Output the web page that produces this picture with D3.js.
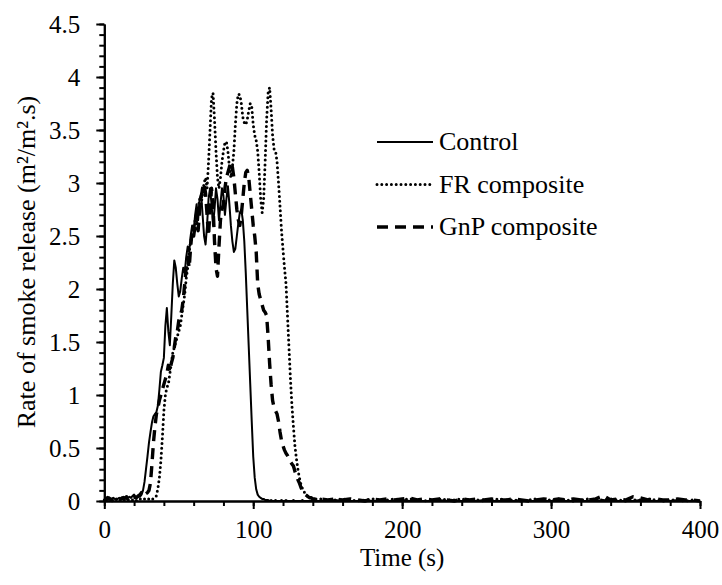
<!DOCTYPE html>
<html>
<head>
<meta charset="utf-8">
<script src="https://cdn.jsdelivr.net/npm/d3@7"></script>
<style>
  body { margin: 0; background: #fff; }
  svg { display: block; }
  .axis path, .axis line { stroke: #000; stroke-width: 2; }
</style>
</head>
<body>
<script>
// sampling grid of the instrument (1 s) and sparse tail (5 s)
const timeMain = d3.range(0, 141)
const timeTail = d3.range(145, 401, 5)

const seriesNames = ['Control', 'FR composite', 'GnP composite']

const controlMain = [
  0.03, 0.02, 0.04, 0.02, 0.01, 0.02, 0.03, 0.02, 0.01, 0.02,
  0.03, 0.02, 0.03, 0.04, 0.03, 0.02, 0.03, 0.04, 0.03, 0.05,
  0.06, 0.04, 0.03, 0.04, 0.04, 0.06, 0.1, 0.18, 0.3, 0.42,
  0.55, 0.65, 0.74, 0.8, 0.82, 0.84, 0.9, 1.05, 1.22, 1.28,
  1.35, 1.65, 1.82, 1.6, 1.47, 1.75, 2.05, 2.27, 2.2, 2.05,
  1.93, 1.98, 2.1, 2.2, 2.15, 2.3, 2.4, 2.35, 2.5, 2.6,
  2.55, 2.7, 2.8, 2.65, 2.85, 2.9, 2.7, 2.5, 2.42, 2.6,
  2.85, 2.95, 2.8, 2.6, 2.75, 2.95, 2.85, 2.65, 2.8, 2.95,
  2.88, 2.7, 2.85, 2.97, 2.8, 2.6, 2.45, 2.35, 2.38, 2.5,
  2.62, 2.72, 2.75, 2.65, 2.45, 2.15, 1.8, 1.45, 1.1, 0.75,
  0.42, 0.22, 0.11, 0.06, 0.04, 0.03, 0.02, 0.02, 0.01, 0.01,
  0.01, 0.0, 0.01, 0.0, 0.0, 0.01, 0.0, 0.0, 0.0, 0.01,
  0.0, 0.0, 0.01, 0.0, 0.0, 0.0, 0.0, 0.01, 0.0, 0.0,
  0.0, 0.0, 0.0, 0.01, 0.0, 0.0, 0.0, 0.0, 0.0, 0.0,
  0.0
]
const frMain = [
  0.01, 0.0, 0.01, 0.02, 0.01, 0.0, 0.01, 0.01, 0.02, 0.01,
  0.0, 0.01, 0.02, 0.01, 0.01, 0.0, 0.01, 0.02, 0.01, 0.01,
  0.02, 0.01, 0.0, 0.01, 0.02, 0.01, 0.01, 0.02, 0.01, 0.01,
  0.02, 0.01, 0.02, 0.02, 0.03, 0.05, 0.12, 0.22, 0.38, 0.6,
  0.85, 1.0, 1.07, 1.1, 1.2, 1.3, 1.4, 1.45, 1.5, 1.55,
  1.6, 1.65, 1.75, 1.85, 1.95, 2.1, 2.2, 2.35, 2.45, 2.5,
  2.55, 2.65, 2.6, 2.75, 2.85, 2.8, 2.9, 3.0, 3.05, 2.95,
  3.2, 3.5, 3.8, 3.85, 3.6, 3.3, 3.05, 2.95, 3.05, 3.2,
  3.3, 3.38, 3.39, 3.3, 3.15, 3.05, 3.15, 3.3, 3.55, 3.75,
  3.84, 3.83, 3.75, 3.62, 3.57, 3.55, 3.6, 3.68, 3.75, 3.72,
  3.55, 3.45, 3.4, 3.3, 3.1, 2.85, 2.72, 2.85, 3.2, 3.6,
  3.85, 3.9, 3.7, 3.45, 3.32, 3.3, 3.2, 3.0, 2.78, 2.55,
  2.37, 2.2, 2.05, 1.75, 1.45, 1.15, 0.9, 0.7, 0.52, 0.4,
  0.3, 0.22, 0.16, 0.12, 0.09, 0.07, 0.05, 0.04, 0.03, 0.03,
  0.02
]
const gnpMain = [
  0.02, 0.01, 0.02, 0.03, 0.02, 0.01, 0.02, 0.03, 0.02, 0.02,
  0.01, 0.02, 0.03, 0.02, 0.03, 0.04, 0.02, 0.03, 0.02, 0.03,
  0.04, 0.03, 0.04, 0.05, 0.06, 0.08, 0.05, 0.06, 0.07, 0.08,
  0.1, 0.17, 0.35, 0.55, 0.7, 0.82, 0.88, 0.95, 1.0, 1.05,
  1.1, 1.15, 1.2, 1.28, 1.22, 1.3, 1.35, 1.45, 1.55, 1.6,
  1.7, 1.75, 1.8, 1.9, 2.05, 2.2, 2.3, 2.2, 2.4, 2.55,
  2.5, 2.6, 2.7, 2.55, 2.75, 2.85, 2.95, 3.0, 2.9, 2.7,
  2.5, 2.75, 2.95, 2.8, 2.45, 2.2, 2.12, 2.4, 2.65, 2.75,
  2.8, 2.95, 3.05, 3.1, 3.15, 3.2, 3.15, 3.05, 2.9, 2.75,
  2.65, 2.6, 2.7, 2.85, 3.0, 3.1, 3.12, 3.05, 2.9, 2.75,
  2.6, 2.5, 2.35, 2.05, 1.95, 1.9, 1.85, 1.8, 1.78, 1.75,
  1.55, 1.3, 1.1, 0.95, 0.88, 0.85, 0.82, 0.75, 0.65, 0.57,
  0.52, 0.48, 0.45, 0.43, 0.4, 0.37, 0.35, 0.33, 0.28, 0.24,
  0.2, 0.17, 0.13, 0.1, 0.08, 0.06, 0.05, 0.04, 0.03, 0.03,
  0.02
]

const controlTail = [
  0.0, 0.0, 0.01, 0.0, 0.0, 0.0, 0.01, 0.0, 0.0, 0.0,
  0.0, 0.01, 0.0, 0.0, 0.0, 0.0, 0.01, 0.0, 0.0, 0.0,
  0.0, 0.0, 0.01, 0.0, 0.0, 0.0, 0.0, 0.01, 0.0, 0.0,
  0.0, 0.0, 0.01, 0.0, 0.0, 0.0, 0.0, 0.0, 0.01, 0.0,
  0.0, 0.0, 0.0, 0.01, 0.0, 0.0, 0.0, 0.0, 0.01, 0.0,
  0.0, 0.0
]
const frTail = [
  0.02, 0.01, 0.01, 0.02, 0.01, 0.0, 0.01, 0.02, 0.01, 0.01,
  0.02, 0.01, 0.02, 0.01, 0.0, 0.01, 0.02, 0.01, 0.01, 0.02,
  0.01, 0.01, 0.0, 0.01, 0.02, 0.01, 0.01, 0.0, 0.01, 0.02,
  0.01, 0.01, 0.02, 0.01, 0.0, 0.01, 0.02, 0.01, 0.01, 0.02,
  0.01, 0.0, 0.01, 0.01, 0.02, 0.01, 0.0, 0.01, 0.01, 0.0,
  0.01, 0.0
]
const gnpTail = [
  0.02, 0.01, 0.02, 0.01, 0.02, 0.01, 0.0, 0.02, 0.01, 0.02,
  0.01, 0.02, 0.03, 0.01, 0.02, 0.01, 0.02, 0.01, 0.0, 0.02,
  0.01, 0.02, 0.01, 0.02, 0.01, 0.01, 0.02, 0.01, 0.0, 0.01,
  0.02, 0.01, 0.02, 0.01, 0.02, 0.01, 0.01, 0.02, 0.05, 0.01,
  0.02, 0.01, 0.04, 0.03, 0.01, 0.02, 0.01, 0.01, 0.02, 0.01,
  0.01, 0.0
]

const xMajor = [0, 100, 200, 300, 400]
const yMajor = [0, 0.5, 1, 1.5, 2, 2.5, 3, 3.5, 4, 4.5]

const WIDTH = 722
const HEIGHT = 585
const LEFT = 104.3
const RIGHT = 700
const TOP = 24
const BOTTOM = 501
const FONT = '"Liberation Serif", "Times New Roman", serif'

const join = (main, tail) =>
  timeMain.map((t, i) => [t, main[i]]).concat(timeTail.map((t, i) => [t, tail[i]]))

const series = [
  { name: seriesNames[0], pts: join(controlMain, controlTail), width: 2, dash: null, cap: 'butt' },
  { name: seriesNames[1], pts: join(frMain, frTail), width: 3, dash: '0 4.8', cap: 'round' },
  { name: seriesNames[2], pts: join(gnpMain, gnpTail), width: 3.4, dash: '11 7', cap: 'butt' },
]

const x = d3.scaleLinear().domain([0, 400]).range([LEFT, RIGHT])
const y = d3.scaleLinear().domain([0, 4.5]).range([BOTTOM, TOP])

const svg = d3.select('body').append('svg')
  .attr('width', WIDTH)
  .attr('height', HEIGHT)
  .attr('font-family', FONT)

const line = d3.line()
  .x(d => x(d[0]))
  .y(d => y(d[1]))

// minor ticks
svg.append('g')
  .attr('class', 'axis')
  .attr('transform', `translate(0, ${BOTTOM})`)
  .call(d3.axisBottom(x).tickValues(d3.range(0, 401, 20)).tickSize(5).tickSizeOuter(0).tickFormat(''))
svg.append('g')
  .attr('class', 'axis')
  .attr('transform', `translate(${LEFT}, 0)`)
  .call(d3.axisLeft(y).tickValues(d3.range(0, 46).map(d => d / 10)).tickSize(5).tickSizeOuter(0).tickFormat(''))

// major ticks + labels
const xAxisG = svg.append('g')
  .attr('class', 'axis')
  .attr('transform', `translate(0, ${BOTTOM})`)
  .call(d3.axisBottom(x).tickValues(xMajor).tickSize(8).tickSizeOuter(0).tickPadding(11))
const yAxisG = svg.append('g')
  .attr('class', 'axis')
  .attr('transform', `translate(${LEFT}, 0)`)
  .call(d3.axisLeft(y).tickValues(yMajor).tickSize(8).tickSizeOuter(0).tickPadding(16).tickFormat(d => String(d)))

;[xAxisG, yAxisG].forEach(g => {
  g.attr('font-family', FONT).attr('font-size', 25)
  g.selectAll('text').attr('fill', '#000').style('font-family', FONT).style('font-size', '25px')
})

svg.selectAll('path.series')
  .data(series)
  .enter()
  .append('path')
  .attr('class', 'series')
  .attr('d', d => line(d.pts))
  .attr('fill', 'none')
  .attr('stroke', '#000')
  .attr('stroke-width', d => d.width)
  .attr('stroke-dasharray', d => d.dash)
  .attr('stroke-linecap', d => d.cap)
  .attr('stroke-linejoin', 'round')

// legend
const legend = svg.append('g')
  .selectAll('g')
  .data(series)
  .enter()
  .append('g')
  .attr('transform', (d, i) => `translate(377, ${142 + i * 42.5})`)
legend.append('line')
  .attr('x1', 0)
  .attr('x2', 56)
  .attr('stroke', '#000')
  .attr('stroke-width', d => d.width)
  .attr('stroke-dasharray', d => d.dash)
  .attr('stroke-linecap', d => d.cap)
legend.append('text')
  .attr('x', 62)
  .attr('y', 8)
  .style('font-family', FONT)
  .style('font-size', '26px')
  .text(d => d.name)

svg.append('text')
  .attr('x', (LEFT + RIGHT) / 2)
  .attr('y', 566)
  .attr('text-anchor', 'middle')
  .style('font-family', FONT)
  .style('font-size', '25px')
  .text('Time (s)')

svg.append('text')
  .attr('transform', 'translate(35, 262) rotate(-90)')
  .attr('text-anchor', 'middle')
  .style('font-family', FONT)
  .style('font-size', '26px')
  .text('Rate of smoke release (m²/m².s)')
</script>
</body>
</html>
